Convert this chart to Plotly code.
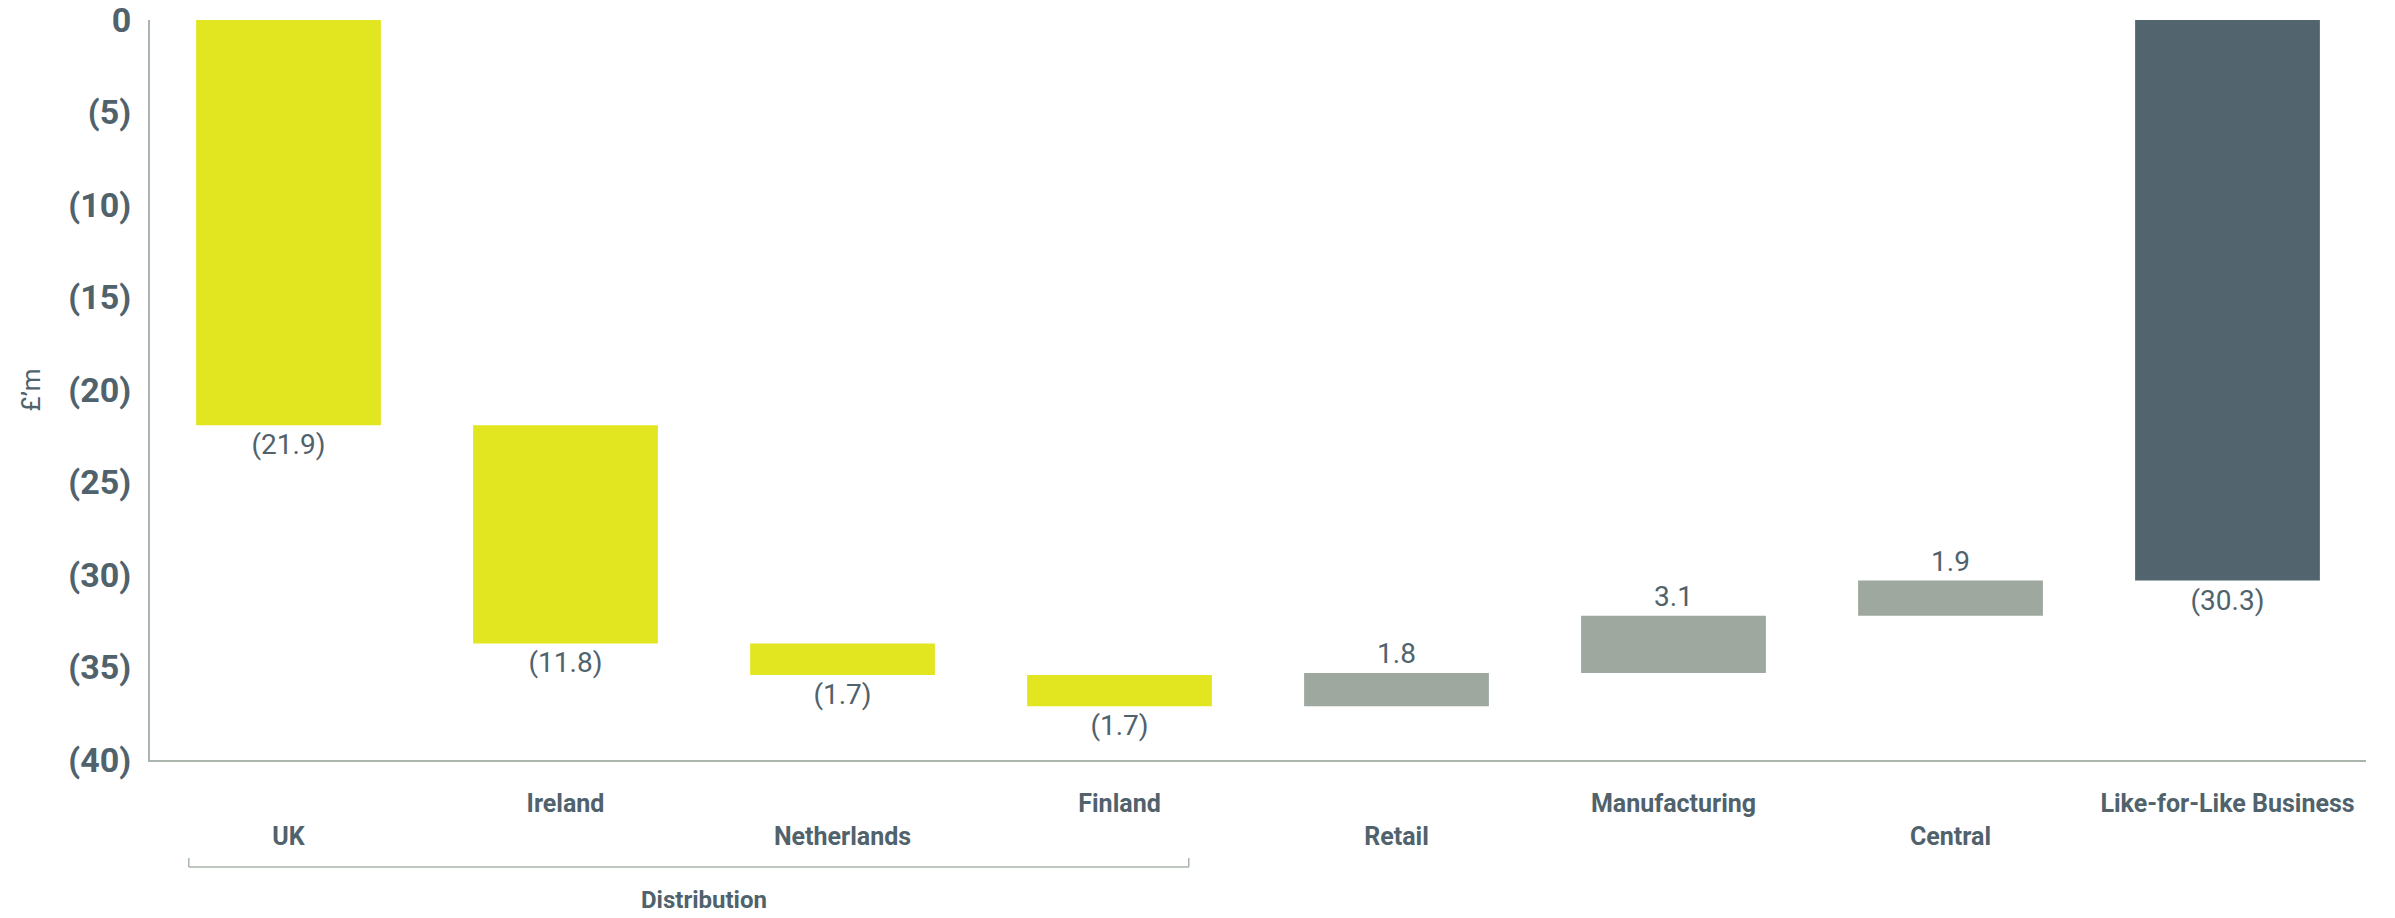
import plotly.graph_objects as go

# Like-for-like profit bridge (£m)
categories = ["UK", "Ireland", "Netherlands", "Finland", "Retail",
              "Manufacturing", "Central", "Like-for-Like Business"]
values = [-21.9, -11.8, -1.7, -1.7, 1.8, 3.1, 1.9, -30.3]
measures = ["relative"] * 7 + ["total"]
# bottom row of staggered category labels
lower_row = {"UK", "Netherlands", "Retail", "Central"}

y_ticks = [0, -5, -10, -15, -20, -25, -30, -35, -40]
y_ticktext = ["0", "(5)", "(10)", "(15)", "(20)", "(25)", "(30)", "(35)", "(40)"]

TEXT = "#50626c"
AXIS = "#aab5ad"
YELLOW = "#e1e620"
GREY = "#9ea89e"
SLATE = "#52646e"
FONT = "Roboto"


def fmt(v):
    return f"({abs(v):.1f})" if v < 0 else f"{v:.1f}"


x_ticktext = [("<br>" + c) if c in lower_row else c for c in categories]

fig = go.Figure(
    go.Waterfall(
        x=categories,
        y=values,
        measure=measures,
        text=[fmt(v) for v in values],
        textposition="outside",
        textfont=dict(family=FONT, size=28, color=TEXT),
        decreasing=dict(marker=dict(color=YELLOW, line=dict(width=0))),
        increasing=dict(marker=dict(color=GREY, line=dict(width=0))),
        totals=dict(marker=dict(color=SLATE, line=dict(width=0))),
        connector=dict(visible=False),
        cliponaxis=False,
        hoverinfo="skip",
    )
)

fig.update_layout(
    width=2395,
    height=918,
    margin=dict(l=150, r=29, t=20, b=158),
    paper_bgcolor="white",
    plot_bgcolor="white",
    showlegend=False,
    waterfallgap=0.333,
    font=dict(family=FONT, color=TEXT),
    xaxis=dict(
        type="category",
        categoryorder="array",
        categoryarray=categories,
        tickmode="array",
        tickvals=categories,
        ticktext=x_ticktext,
        tickfont=dict(family=FONT, size=25, color=TEXT, weight="bold"),
        showline=True,
        linecolor=AXIS,
        linewidth=2,
        showgrid=False,
        zeroline=False,
        ticks="outside",
        ticklen=20,
        tickcolor="rgba(0,0,0,0)",
        automargin=False,
        ticklabeloverflow="allow",
    ),
    yaxis=dict(
        range=[-40, 0],
        tickmode="array",
        tickvals=y_ticks,
        ticktext=y_ticktext,
        tickfont=dict(family=FONT, size=34, color=TEXT, weight="bold"),
        showline=True,
        linecolor=AXIS,
        linewidth=2,
        showgrid=False,
        zeroline=False,
        ticks="outside",
        ticklen=10,
        tickcolor="rgba(0,0,0,0)",
        automargin=False,
        ticklabeloverflow="allow",
        title=dict(text="£’m", font=dict(family=FONT, size=26, color=TEXT), standoff=20),
    ),
)

# Bracket grouping the distribution markets
bracket = dict(color=AXIS, width=1.5)
fig.add_shape(type="line", xref="x", yref="paper", x0=-0.36, x1=3.25,
              y0=-0.1446, y1=-0.1446, line=bracket)
fig.add_shape(type="line", xref="x", yref="paper", x0=-0.36, x1=-0.36,
              y0=-0.1446, y1=-0.1324, line=bracket)
fig.add_shape(type="line", xref="x", yref="paper", x0=3.25, x1=3.25,
              y0=-0.1446, y1=-0.1324, line=bracket)
fig.add_annotation(text="Distribution", xref="x", yref="paper", x=1.5, y=-0.189,
                   showarrow=False, yanchor="middle",
                   font=dict(family=FONT, size=24, color=TEXT, weight="bold"))

fig.write_html("out.html")
